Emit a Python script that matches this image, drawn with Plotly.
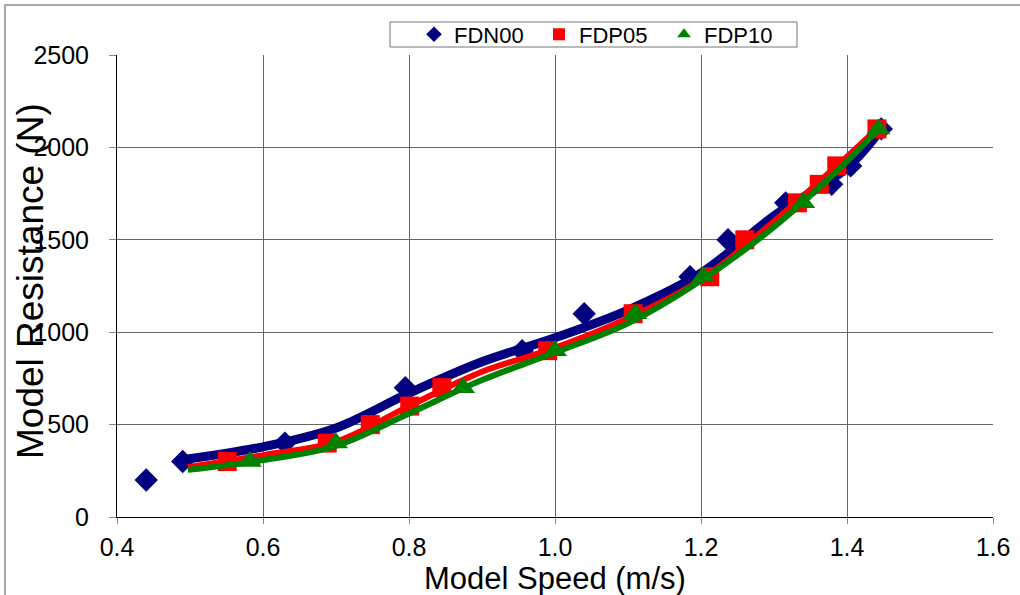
import plotly.graph_objects as go

# Measured points (speed in m/s, resistance in N)
fdn00_speed = [0.44, 0.49, 0.63, 0.795, 0.955, 1.04, 1.185, 1.237, 1.316, 1.379, 1.405, 1.447]
fdn00_res = [200, 300, 400, 700, 900, 1100, 1300, 1500, 1700, 1800, 1900, 2100]

fdp05_speed = [0.551, 0.688, 0.747, 0.801, 0.845, 0.990, 1.107, 1.212, 1.260, 1.332, 1.362, 1.386, 1.441]
fdp05_res = [300, 400, 500, 600, 700, 900, 1100, 1300, 1500, 1700, 1800, 1900, 2100]

fdp10_speed = [0.582, 0.700, 0.874, 1.000, 1.110, 1.203, 1.340, 1.443]
fdp10_res = [300, 400, 700, 900, 1100, 1300, 1700, 2100]

# Trend curves for each model
fdn00_fit_speed = [0.49, 0.60, 0.70, 0.80, 0.90, 1.00, 1.10, 1.20, 1.30, 1.40, 1.447]
fdn00_fit_res = [310, 380, 482, 670, 840, 970, 1120, 1320, 1630, 1890, 2100]

fdp05_fit_speed = [0.497, 0.60, 0.70, 0.80, 0.90, 1.00, 1.10, 1.20, 1.30, 1.40, 1.441]
fdp05_fit_res = [270, 335, 408, 600, 786, 915, 1075, 1285, 1600, 1950, 2100]

fdp10_fit_speed = [0.497, 0.60, 0.70, 0.80, 0.90, 1.00, 1.10, 1.20, 1.30, 1.40, 1.443]
fdp10_fit_res = [255, 308, 385, 560, 741, 890, 1048, 1280, 1570, 1925, 2100]

x_ticks = [0.4, 0.6, 0.8, 1.0, 1.2, 1.4, 1.6]
y_ticks = [0, 500, 1000, 1500, 2000, 2500]

NAVY = "#000080"
RED = "#FF0000"
GREEN = "#008000"
FONT = "Arial, 'Liberation Sans', sans-serif"

series = [
    ("FDN00", fdn00_speed, fdn00_res, fdn00_fit_speed, fdn00_fit_res, NAVY, "diamond", 18, 9),
    ("FDP05", fdp05_speed, fdp05_res, fdp05_fit_speed, fdp05_fit_res, RED, "square", 19, 6),
    ("FDP10", fdp10_speed, fdp10_res, fdp10_fit_speed, fdp10_fit_res, GREEN, "triangle-up", 21, 6),
]

fig = go.Figure()
for name, xs, ys, fx, fy, color, symbol, msize, lw in series:
    fig.add_trace(go.Scatter(
        x=fx, y=fy, mode="lines", line=dict(color=color, width=lw, shape="spline"),
        showlegend=False, hoverinfo="skip",
    ))
    fig.add_trace(go.Scatter(
        x=xs, y=ys, mode="markers", name=name,
        marker=dict(symbol=symbol, size=msize, color=color, line=dict(width=0)),
    ))

# Plot area geometry (px) used to place paper-referenced items
L, R, T, B = 117, 27, 55, 78
W, H = 1020 - L - R, 595 - T - B


def px_x(p):
    return (p - L) / W


def px_y(p):
    return (595 - B - p) / H


fig.update_layout(
    width=1020, height=595,
    margin=dict(l=L, r=R, t=T, b=B, autoexpand=False),
    paper_bgcolor="white", plot_bgcolor="white",
    font=dict(family=FONT, color="black"),
    showlegend=True,
    legend=dict(
        orientation="h", x=px_x(414), xanchor="left", y=px_y(34.5), yanchor="middle",
        font=dict(size=22, family=FONT, color="black"),
        bgcolor="rgba(0,0,0,0)", borderwidth=0,
        entrywidth=80, entrywidthmode="pixels", itemsizing="constant",
    ),
    xaxis=dict(
        range=[0.4, 1.6], tickvals=x_ticks, ticktext=[f"{v:.1f}" for v in x_ticks],
        showgrid=True, gridcolor="#666666", gridwidth=1, zeroline=False,
        showline=True, linecolor="black", linewidth=1,
        ticks="outside", ticklen=6, tickcolor="#888888", tickwidth=1,
        tickfont=dict(size=25, family=FONT, color="black"), ticklabelstandoff=2,
    ),
    yaxis=dict(
        range=[0, 2500], tickvals=y_ticks, ticktext=[str(v) for v in y_ticks],
        showgrid=True, gridcolor="#666666", gridwidth=1, zeroline=False,
        showline=True, linecolor="black", linewidth=1,
        ticks="outside", ticklen=7, tickcolor="#888888", tickwidth=1,
        tickfont=dict(size=25, family=FONT, color="black"), ticklabelstandoff=15,
    ),
    annotations=[
        dict(text="Model Speed (m/s)", xref="paper", yref="paper", x=0.5, y=px_y(578),
             xanchor="center", yanchor="middle", showarrow=False,
             font=dict(size=31, family=FONT, color="black")),
        dict(text="Model Resistance (N)", xref="paper", yref="paper", x=px_x(30), y=px_y(281),
             xanchor="center", yanchor="middle", textangle=-90, showarrow=False,
             font=dict(size=37, family=FONT, color="black")),
    ],
    shapes=[
        # outer chart frame
        dict(type="rect", xref="paper", yref="paper", x0=px_x(5), x1=px_x(1040),
             y0=px_y(615), y1=px_y(5), line=dict(color="#8c8c8c", width=1.5), layer="below"),
        # legend frame
        dict(type="rect", xref="paper", yref="paper", x0=px_x(390), x1=px_x(797),
             y0=px_y(47), y1=px_y(22), line=dict(color="#777777", width=1)),
    ],
)

fig.write_html("out.html")
